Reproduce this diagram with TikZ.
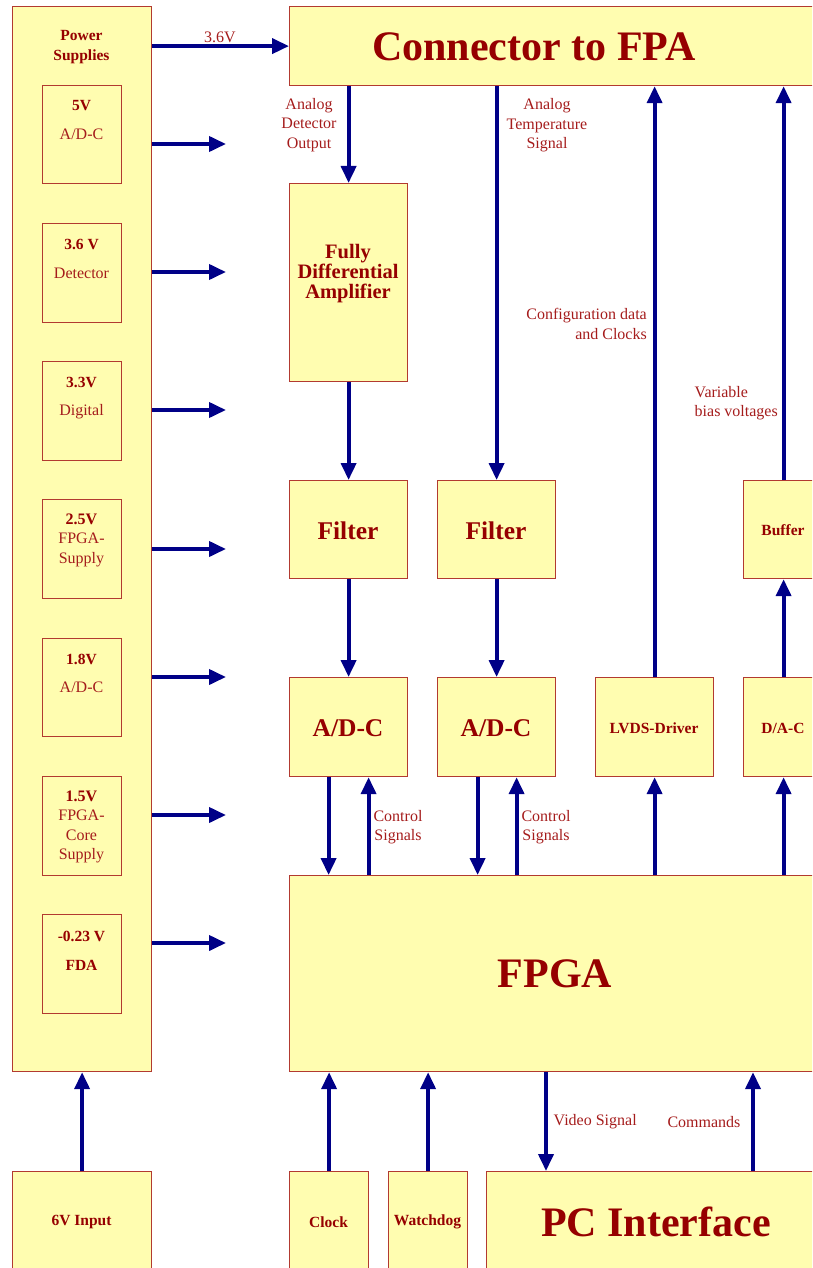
\documentclass[tikz,border=0pt]{standalone}
\usepackage{fontspec}
\setmainfont{Liberation Serif}
\usetikzlibrary{arrows.meta}
\definecolor{boxfill}{RGB}{255,253,176}
\definecolor{boxline}{RGB}{178,58,48}
\definecolor{ttl}{RGB}{150,0,0}
\definecolor{lblc}{RGB}{165,28,28}
\definecolor{navyc}{RGB}{0,0,135}
\tikzset{
  box/.style={draw=boxline, fill=boxfill, line width=1.2pt, inner sep=0pt, anchor=north west},
  arr/.style={draw=navyc, line width=3.8pt, -{Triangle[length=17pt,width=15pt]}},
  lbl/.style={text=lblc, font=\fontsize{16}{19.5}\selectfont, align=center, inner sep=0pt},
  sbold/.style={text=ttl, font=\fontsize{15.5}{19.5}\selectfont\bfseries, align=center, inner sep=0pt},
  mbold/.style={text=ttl, font=\fontsize{20.5}{20}\selectfont\bfseries, align=center, inner sep=0pt},
  lbold/.style={text=ttl, font=\fontsize{25.5}{25}\selectfont\bfseries, align=center, inner sep=0pt},
  hbold/.style={text=ttl, font=\fontsize{42}{42}\selectfont\bfseries, align=center, inner sep=0pt},
}
\begin{document}
\begin{tikzpicture}[x=1pt,y=-1pt]
\useasboundingbox (0,0) rectangle (812,1268);
\clip (0,0) rectangle (812,1268);
% boxes
\node[box, minimum width=139, minimum height=1065] (ps) at (12,6) {};
\node[box, minimum width=79, minimum height=98] (b5) at (42,85) {};
\node[box, minimum width=79, minimum height=99] (b36) at (42,223) {};
\node[box, minimum width=79, minimum height=99] (b33) at (42,361) {};
\node[box, minimum width=79, minimum height=99] (b25) at (42,499) {};
\node[box, minimum width=79, minimum height=98] (b18) at (42,638) {};
\node[box, minimum width=79, minimum height=99] (b15) at (42,776) {};
\node[box, minimum width=79, minimum height=99] (b023) at (42,914) {};
\node[box, minimum width=560, minimum height=79] (conn) at (289,6) {};
\node[box, minimum width=118, minimum height=198] (fda) at (289,183) {};
\node[box, minimum width=118, minimum height=98] (filt1) at (289,480) {};
\node[box, minimum width=118, minimum height=98] (filt2) at (437,480) {};
\node[box, minimum width=80, minimum height=98] (buf) at (743,480) {};
\node[box, minimum width=118, minimum height=99] (adc1) at (289,677) {};
\node[box, minimum width=118, minimum height=99] (adc2) at (437,677) {};
\node[box, minimum width=118, minimum height=99] (lvds) at (595,677) {};
\node[box, minimum width=80, minimum height=99] (dac) at (743,677) {};
\node[box, minimum width=560, minimum height=196] (fpga) at (289,875) {};
\node[box, minimum width=139, minimum height=140] (in6) at (12,1171) {};
\node[box, minimum width=79, minimum height=140] (clk) at (289,1171) {};
\node[box, minimum width=79, minimum height=140] (wd) at (388,1171) {};
\node[box, minimum width=360, minimum height=140] (pc) at (486,1171) {};
% box texts
\node[sbold] (tps) at (81.5,47) {Power\\Supplies};
\node[sbold] (t5a) at (81.5,106) {5V};
\node[lbl] (t5b) at (81.5,134) {A/D-C};
\node[sbold] (t36a) at (81.5,244) {3.6 V};
\node[lbl] (t36b) at (81.5,273) {Detector};
\node[sbold] (t33a) at (81.5,382) {3.3V};
\node[lbl] (t33b) at (81.5,412) {Digital};
\node[lbl] (t25) at (81.5,540) {\textbf{\color{ttl}2.5V}\\FPGA-\\Supply};
\node[sbold] (t18a) at (81.5,659) {1.8V};
\node[lbl] (t18b) at (81.5,687) {A/D-C};
\node[lbl] (t15) at (81.5,827) {\textbf{\color{ttl}1.5V}\\FPGA-\\Core\\Supply};
\node[sbold] (t023a) at (81.5,936) {-0.23 V};
\node[sbold] (t023b) at (81.5,965) {FDA};
\node[hbold] (tconn) at (534,47) {Connector to FPA};
\node[mbold] (tfda) at (348,274) {Fully\\Differential\\Amplifier};
\node[lbold] (tf1) at (348,531) {Filter};
\node[lbold] (tf2) at (496,531) {Filter};
\node[sbold] (tbuf) at (783,530) {Buffer};
\node[lbold] (ta1) at (348,728) {A/D-C};
\node[lbold] (ta2) at (496,728) {A/D-C};
\node[sbold] (tlv) at (654,728) {LVDS-Driver};
\node[sbold] (tdac) at (783,728) {D/A-C};
\node[hbold] (tfpga) at (555,974) {FPGA};
\node[sbold] (tin6) at (81.5,1222) {6V Input};
\node[sbold] (tclk) at (328.5,1222) {Clock};
\node[sbold] (twd) at (427.5,1222) {Watchdog};
\node[hbold] (tpc) at (656,1222) {PC Interface};
% labels
\node[lbl] (l36) at (220,37) {3.6V};
\node[lbl] (lado) at (309,125) {Analog\\Detector\\Output};
\node[lbl] (lats) at (547,125.5) {Analog\\Temperature\\Signal};
\node[lbl, align=right, anchor=east] (lcfg) at (647,324) {Configuration data\\and Clocks};
\node[lbl, align=left, anchor=west] (lvar) at (694.5,403) {Variable\\bias voltages};
\node[lbl] (lcs1) at (398,827) {Control\\Signals};
\node[lbl] (lcs2) at (546,827) {Control\\Signals};
\node[lbl, anchor=west] (lvid) at (553.5,1122) {Video Signal};
\node[lbl] (lcmd) at (704,1122) {Commands};
% power arrows
\coordinate (e1) at (226,144);
\coordinate (e2) at (226,272);
\coordinate (e3) at (226,410);
\coordinate (e4) at (226,549);
\coordinate (e5) at (226,677);
\coordinate (e6) at (226,815);
\coordinate (e7) at (226,943);
\foreach \c in {e1,e2,e3,e4,e5,e6,e7}{\draw[arr] (ps.east |- \c) -- (\c);}
\draw[arr] (ps.east |- conn.west) -- (conn.west);
% signal arrows
\draw[arr] (fda.north |- conn.south) -- (fda.north);
\draw[arr] (filt2.north |- conn.south) -- (filt2.north);
\draw[arr] (fda.south) -- (filt1.north);
\draw[arr] (filt1.south) -- (adc1.north);
\draw[arr] (filt2.south) -- (adc2.north);
\coordinate (a1d) at ([xshift=-20]adc1.south);
\coordinate (a1u) at ([xshift=20]adc1.south);
\coordinate (a2d) at ([xshift=-19]adc2.south);
\coordinate (a2u) at ([xshift=20]adc2.south);
\draw[arr] (a1d) -- (a1d |- fpga.north);
\draw[arr] (a1u |- fpga.north) -- (a1u);
\draw[arr] (a2d) -- (a2d |- fpga.north);
\draw[arr] (a2u |- fpga.north) -- (a2u);
\draw[arr] (lvds.south |- fpga.north) -- (lvds.south);
\draw[arr] (lvds.north) -- (lvds.north |- conn.south);
\draw[arr] (dac.south |- fpga.north) -- (dac.south);
\draw[arr] (dac.north) -- (buf.south);
\draw[arr] (buf.north) -- (buf.north |- conn.south);
\draw[arr] (in6.north) -- (in6.north |- ps.south);
\draw[arr] (clk.north) -- (clk.north |- fpga.south);
\draw[arr] (wd.north) -- (wd.north |- fpga.south);
\coordinate (pv) at ([xshift=60]pc.north west);
\coordinate (pcm) at ([xshift=267]pc.north west);
\draw[arr] (pv |- fpga.south) -- (pv);
\draw[arr] (pcm) -- (pcm |- fpga.south);
\end{tikzpicture}
\end{document}
